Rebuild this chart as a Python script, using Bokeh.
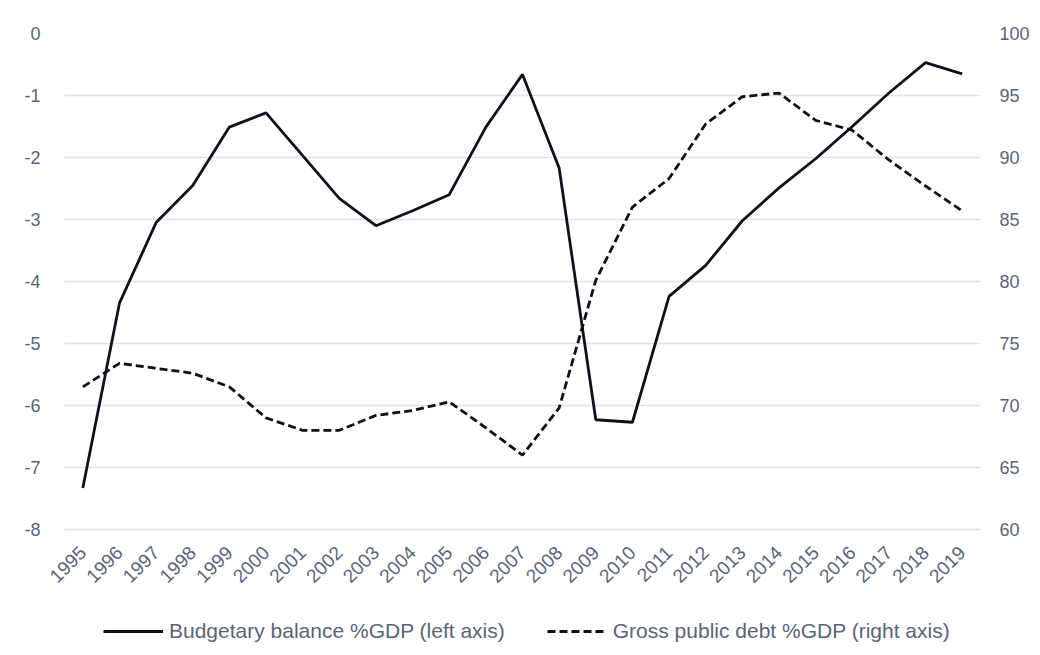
import math
from bokeh.plotting import figure
from bokeh.models import (Range1d, LinearAxis, Legend, LegendItem, FixedTicker,
                          PrintfTickFormatter, BoxAnnotation)
from bokeh.embed import file_html
from bokeh.resources import INLINE

years = list(range(1995, 2020))
balance = [-7.33, -4.35, -3.05, -2.45, -1.51, -1.28, -1.97, -2.66, -3.10, -2.86,
           -2.60, -1.51, -0.66, -2.17, -6.23, -6.27, -4.24, -3.74, -3.02, -2.49,
           -2.02, -1.50, -0.96, -0.47, -0.65]
debt = [71.5, 73.4, 73.0, 72.6, 71.5, 69.0, 68.0, 68.0, 69.2, 69.6,
        70.3, 68.2, 66.0, 69.8, 80.1, 86.0, 88.3, 92.7, 94.9, 95.2,
        93.0, 92.2, 89.8, 87.7, 85.7]
left_ticks = [0, -1, -2, -3, -4, -5, -6, -7, -8]
right_ticks = [60, 65, 70, 75, 80, 85, 90, 95, 100]
label_balance = "Budgetary balance %GDP (left axis)"
label_debt = "Gross public debt %GDP (right axis)"

FONT = "Liberation Sans"
TXT = "#5a6478"
LINE = "#0d111c"

# The frame extends below the value area (-8 / 60) to host the year labels
# and the legend; the x axis is pinned at the bottom of the value area.
p = figure(frame_width=940, frame_height=620,
           x_range=Range1d(1993.845, 2019.5), y_range=Range1d(-10, 0),
           output_backend="svg", toolbar_location=None,
           min_border_left=40, min_border_right=54, min_border_top=33,
           min_border_bottom=0)
p.outline_line_color = None
p.extra_y_ranges = {"debt": Range1d(50, 100)}

p.xgrid.grid_line_color = None
p.ygrid.grid_line_color = "#e2e3e7"
p.ygrid.grid_line_width = 1.5
p.yaxis.ticker = FixedTicker(ticks=left_ticks)
p.yaxis.formatter = PrintfTickFormatter(format="%d")
p.xaxis.ticker = FixedTicker(ticks=years)
p.xaxis.formatter = PrintfTickFormatter(format="%d")

# keep the grid lines starting at the plot area's left edge
p.add_layout(BoxAnnotation(right=1994.5, fill_color="white", fill_alpha=1,
                           line_color=None, level="underlay"))

right = LinearAxis(y_range_name="debt", ticker=FixedTicker(ticks=right_ticks),
                   formatter=PrintfTickFormatter(format="%d"))
p.add_layout(right, "right")

for ax in [p.xaxis[0], p.yaxis[0], right]:
    ax.axis_line_color = None
    ax.major_tick_line_color = None
    ax.minor_tick_line_color = None
    ax.major_label_text_font = FONT
    ax.major_label_text_color = TXT
    ax.major_label_text_font_size = "18px"

p.xaxis[0].fixed_location = -8
p.xaxis[0].major_label_text_font_size = "19px"
p.yaxis[0].major_label_standoff = -6
right.major_label_standoff = 13
p.xaxis[0].major_label_orientation = math.pi / 4
p.xaxis[0].major_label_standoff = 14

r1 = p.line(years, balance, line_color=LINE, line_width=2.8)
r2 = p.line(years, debt, y_range_name="debt", line_color=LINE, line_width=2.8,
            line_dash="8 4")

legend = Legend(items=[LegendItem(label=label_balance, renderers=[r1]),
                       LegendItem(label=label_debt, renderers=[r2])],
                orientation="horizontal", location=(63, 10),
                label_text_font=FONT, label_text_color=TXT,
                label_text_font_size="21px", glyph_width=60, label_standoff=6,
                spacing=42, border_line_color=None, background_fill_alpha=0,
                margin=0, padding=4)
p.add_layout(legend)

open("out.html", "w").write(file_html(p, INLINE))
